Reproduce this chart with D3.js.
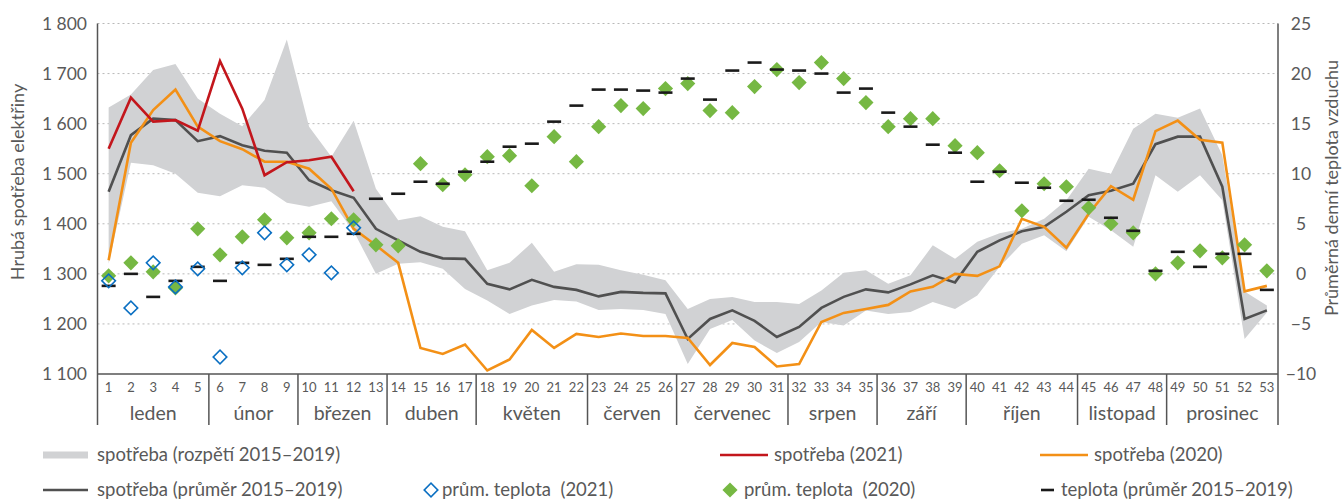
<!DOCTYPE html>
<html lang="cs">
    <head>
        <meta charset="utf-8">
        <title>Hrubá spotřeba elektřiny a teplota</title>
        <script type="text/javascript" src="https://d3js.org/d3.v7.min.js"></script>
        <style type="text/css">
            body { margin: 0; background: #fff; }
            text { font-family: Lato, "Open Sans", sans-serif; fill: #595959; }
        </style>
    </head>
    <body>
        <div id="chart"></div>
        <script type="text/javascript">

            // categories
            var weeks = d3.range(1, 54);
            var monthNames = ["leden", "únor", "březen", "duben", "květen", "červen", "červenec", "srpen", "září", "říjen", "listopad", "prosinec"];
            var monthFirstWeek = [1, 6, 10, 14, 18, 23, 27, 32, 36, 40, 45, 49];
            var monthLastWeek = [5, 9, 13, 17, 22, 26, 31, 35, 39, 44, 48, 53];

            // tick labels
            var consTicks = [1100, 1200, 1300, 1400, 1500, 1600, 1700, 1800];
            var tempTicks = [-10, -5, 0, 5, 10, 15, 20, 25];

            // consumption
            var consMin = [1320, 1522, 1517, 1500, 1462, 1455, 1477, 1472, 1442, 1434, 1445, 1385, 1300, 1320, 1323, 1310, 1270, 1247, 1220, 1237, 1248, 1245, 1228, 1230, 1228, 1220, 1120, 1190, 1208, 1167, 1142, 1164, 1204, 1197, 1227, 1220, 1224, 1244, 1230, 1257, 1314, 1360, 1377, 1345, 1414, 1387, 1354, 1497, 1464, 1497, 1447, 1170, 1223];
            var consMax = [1632, 1658, 1707, 1719, 1650, 1620, 1595, 1647, 1768, 1594, 1534, 1606, 1470, 1407, 1415, 1394, 1385, 1307, 1322, 1362, 1304, 1319, 1318, 1307, 1298, 1287, 1230, 1250, 1254, 1244, 1244, 1240, 1267, 1302, 1307, 1280, 1297, 1357, 1330, 1364, 1381, 1390, 1410, 1447, 1510, 1500, 1590, 1620, 1612, 1630, 1537, 1265, 1237];
            var consAvg = [1464, 1577, 1610, 1607, 1565, 1575, 1557, 1546, 1542, 1487, 1467, 1452, 1390, 1367, 1344, 1331, 1330, 1280, 1269, 1288, 1274, 1268, 1255, 1264, 1262, 1261, 1170, 1210, 1227, 1206, 1174, 1194, 1232, 1254, 1269, 1263, 1279, 1297, 1283, 1344, 1367, 1385, 1394, 1424, 1457, 1466, 1480, 1559, 1574, 1574, 1474, 1210, 1227];
            var cons2020 = [1327, 1562, 1627, 1668, 1594, 1565, 1549, 1524, 1524, 1510, 1470, 1390, 1357, 1322, 1152, 1140, 1159, 1107, 1129, 1188, 1152, 1180, 1174, 1181, 1176, 1176, 1172, 1118, 1162, 1154, 1115, 1120, 1204, 1222, 1230, 1238, 1265, 1274, 1300, 1296, 1315, 1410, 1394, 1352, 1420, 1475, 1448, 1585, 1606, 1568, 1562, 1265, 1276];
            var cons2021 = [1550, 1652, 1604, 1607, 1586, 1725, 1630, 1497, 1523, 1527, 1534, 1465];

            // temperature
            var tempAvg = [-1.2, 0.0, -2.3, -0.7, 0.7, -0.7, 1.1, 0.9, 1.5, 3.7, 3.7, 4.0, 7.5, 8.0, 9.2, 9.0, 10.2, 11.2, 12.7, 13.0, 15.2, 16.8, 18.4, 18.4, 18.3, 18.1, 19.5, 17.4, 20.3, 21.1, 20.4, 20.3, 20.0, 18.1, 18.5, 16.1, 14.7, 12.9, 12.1, 9.2, 10.2, 9.1, 8.6, 7.3, 7.4, 5.6, 4.3, 0.3, 2.2, 0.7, 2.0, 2.0, -1.6];
            var temp2020 = [-0.2, 1.1, 0.2, -1.4, 4.5, 1.9, 3.7, 5.4, 3.6, 4.1, 5.5, 5.4, 2.9, 2.8, 11.0, 8.9, 9.9, 11.7, 11.8, 8.8, 13.7, 11.2, 14.7, 16.8, 16.5, 18.5, 19.0, 16.3, 16.1, 18.7, 20.4, 19.1, 21.1, 19.5, 17.1, 14.7, 15.5, 15.5, 12.8, 12.1, 10.3, 6.3, 9.0, 8.7, 6.6, 5.0, 4.1, 0.0, 1.1, 2.3, 1.6, 2.9, 0.3];
            var temp2021 = [-0.7, -3.4, 1.1, -1.3, 0.5, -8.3, 0.6, 4.1, 0.9, 1.9, 0.1, 4.6];

            var colors = {band: "#d1d2d4", avg: "#505050", y2020: "#f39016", y2021: "#c3161c",
                          green: "#76b843", blue: "#0a6fc2", dash: "#1a1a1a", axis: "#555"};

            // plot area
            var plotLeft = 97.5, plotRight = 1278, plotTop = 23.5, plotBottom = 374, axisEnd = 425;

            var svg = d3.select("#chart")
                .append("svg")
                    .attr("width", 1343)
                    .attr("height", 499);

            // scales
            var x = d3.scaleBand().domain(weeks).range([plotLeft, plotRight]).padding(0);
            var cx = function(w) { return x(w) + x.bandwidth() / 2; };
            var yCons = d3.scaleLinear().domain([1100, 1800]).range([plotBottom, plotTop]);
            var yTemp = d3.scaleLinear().domain([-10, 25]).range([plotBottom, plotTop]);

            var cz = d3.formatLocale({decimal: ",", thousands: "\u00a0", grouping: [3], currency: ["", " Kč"]});

            // grid
            svg.append("g")
                .selectAll("line")
                .data(consTicks.slice(1))
                .join("line")
                    .attr("x1", plotLeft).attr("x2", plotRight)
                    .attr("y1", function(d) { return yCons(d); })
                    .attr("y2", function(d) { return yCons(d); })
                    .attr("stroke", "#b8b8b8")
                    .attr("stroke-width", 1)
                    .attr("stroke-dasharray", "2,3");

            // range band
            var rows = weeks.map(function(w, i) {
                return {week: w, min: consMin[i], max: consMax[i]};
            });
            svg.append("path")
                .datum(rows)
                .attr("fill", colors.band)
                .attr("d", d3.area()
                    .x(function(d) { return cx(d.week); })
                    .y0(function(d) { return yCons(d.min); })
                    .y1(function(d) { return yCons(d.max); }));

            // consumption lines
            function drawLine(values, color) {
                svg.append("path")
                    .datum(values.map(function(v, i) { return {week: weeks[i], v: v}; }))
                    .attr("fill", "none")
                    .attr("stroke", color)
                    .attr("stroke-width", 2.6)
                    .attr("d", d3.line()
                        .x(function(d) { return cx(d.week); })
                        .y(function(d) { return yCons(d.v); }));
            }
            drawLine(consAvg, colors.avg);
            drawLine(cons2020, colors.y2020);
            drawLine(cons2021, colors.y2021);

            // temperature markers
            var diamond = d3.symbol().type(d3.symbolSquare).size(115);
            var diamondOpen = d3.symbol().type(d3.symbolSquare).size(92);

            svg.append("g")
                .selectAll("path")
                .data(temp2020)
                .join("path")
                    .attr("d", diamond)
                    .attr("transform", function(d, i) { return "translate(" + cx(weeks[i]) + "," + yTemp(d) + ") rotate(45)"; })
                    .attr("fill", colors.green);

            svg.append("g")
                .selectAll("line")
                .data(tempAvg)
                .join("line")
                    .attr("x1", function(d, i) { return cx(weeks[i]) - 7; })
                    .attr("x2", function(d, i) { return cx(weeks[i]) + 7; })
                    .attr("y1", function(d) { return yTemp(d); })
                    .attr("y2", function(d) { return yTemp(d); })
                    .attr("stroke", colors.dash)
                    .attr("stroke-width", 2.6);

            svg.append("g")
                .selectAll("path")
                .data(temp2021)
                .join("path")
                    .attr("d", diamondOpen)
                    .attr("transform", function(d, i) { return "translate(" + cx(weeks[i]) + "," + yTemp(d) + ") rotate(45)"; })
                    .attr("fill", "none")
                    .attr("stroke", colors.blue)
                    .attr("stroke-width", 1.6);

            // left axis
            var gLeft = svg.append("g")
                .attr("transform", "translate(" + plotLeft + ",0)")
                .call(d3.axisLeft(yCons).tickValues(consTicks).tickSize(0).tickPadding(10.5).tickFormat(cz.format(",")));
            gLeft.select(".domain").remove();
            gLeft.selectAll("text").style("font-size", "17.5px").style("font-family", "Lato, sans-serif").attr("fill", "#595959");

            // right axis
            var gRight = svg.append("g")
                .attr("transform", "translate(" + plotRight + ",0)")
                .call(d3.axisRight(yTemp).tickValues(tempTicks).tickSize(0).tickFormat(d3.format("d")));
            gRight.select(".domain").remove();
            gRight.selectAll("text")
                .attr("x", 23).attr("text-anchor", "middle")
                .style("font-size", "17.5px").style("font-family", "Lato, sans-serif").attr("fill", "#595959");

            // week labels
            var gBottom = svg.append("g")
                .attr("transform", "translate(0," + plotBottom + ")")
                .call(d3.axisBottom(x).tickSize(0).tickPadding(9));
            gBottom.select(".domain").remove();
            gBottom.selectAll("text").style("font-size", "13px").style("font-family", "Lato, sans-serif").attr("fill", "#595959");

            // frame lines
            svg.append("line")
                .attr("x1", plotLeft).attr("x2", plotRight).attr("y1", plotBottom).attr("y2", plotBottom)
                .attr("stroke", colors.axis).attr("stroke-width", 1.5);
            svg.append("line")
                .attr("x1", plotLeft).attr("x2", plotLeft).attr("y1", plotTop).attr("y2", axisEnd)
                .attr("stroke", colors.axis).attr("stroke-width", 1.5);
            svg.append("line")
                .attr("x1", plotRight).attr("x2", plotRight).attr("y1", plotTop).attr("y2", axisEnd)
                .attr("stroke", colors.axis).attr("stroke-width", 1.5);

            // month separators and labels
            svg.append("g")
                .selectAll("line")
                .data(monthFirstWeek.slice(1))
                .join("line")
                    .attr("x1", function(d) { return x(d); })
                    .attr("x2", function(d) { return x(d); })
                    .attr("y1", plotBottom).attr("y2", axisEnd)
                    .attr("stroke", colors.axis).attr("stroke-width", 1.5);

            svg.append("g")
                .selectAll("text")
                .data(monthNames)
                .join("text")
                    .attr("x", function(d, i) { return (x(monthFirstWeek[i]) + x(monthLastWeek[i]) + x.bandwidth()) / 2; })
                    .attr("y", 413)
                    .attr("dy", "0.35em")
                    .attr("text-anchor", "middle")
                    .style("font-size", "19.5px")
                    .text(function(d) { return d; });

            // axis titles
            svg.append("text")
                .attr("transform", "translate(24,182) rotate(-90)")
                .attr("text-anchor", "middle")
                .style("font-size", "18px")
                .text("Hrubá spotřeba elektřiny");
            svg.append("text")
                .attr("transform", "translate(1338,188) rotate(-90)")
                .attr("text-anchor", "middle")
                .style("font-size", "18px")
                .text("Průměrná denní teplota vzduchu");

            // legend
            var legend = svg.append("g").style("font-size", "18.5px");
            var r1 = 455, r2 = 490;

            legend.append("rect").attr("x", 43).attr("y", r1 - 3.5).attr("width", 45).attr("height", 7).attr("fill", colors.band);
            legend.append("text").attr("x", 97).attr("y", r1).attr("dy", "0.35em").text("spotřeba (rozpětí 2015–2019)");

            legend.append("line").attr("x1", 720).attr("x2", 768).attr("y1", r1).attr("y2", r1).attr("stroke", colors.y2021).attr("stroke-width", 2.6);
            legend.append("text").attr("x", 774).attr("y", r1).attr("dy", "0.35em").text("spotřeba (2021)");

            legend.append("line").attr("x1", 1040).attr("x2", 1088).attr("y1", r1).attr("y2", r1).attr("stroke", colors.y2020).attr("stroke-width", 2.6);
            legend.append("text").attr("x", 1094).attr("y", r1).attr("dy", "0.35em").text("spotřeba (2020)");

            legend.append("line").attr("x1", 43).attr("x2", 88).attr("y1", r2).attr("y2", r2).attr("stroke", colors.avg).attr("stroke-width", 2.6);
            legend.append("text").attr("x", 97).attr("y", r2).attr("dy", "0.35em").text("spotřeba (průměr 2015–2019)");

            legend.append("path").attr("d", diamondOpen).attr("transform", "translate(431," + r2 + ") rotate(45)")
                .attr("fill", "none").attr("stroke", colors.blue).attr("stroke-width", 1.6);
            legend.append("text").attr("x", 442).attr("y", r2).attr("dy", "0.35em").style("white-space", "pre").text("prům. teplota  (2021)");

            legend.append("path").attr("d", diamond).attr("transform", "translate(730," + r2 + ") rotate(45)")
                .attr("fill", colors.green);
            legend.append("text").attr("x", 744).attr("y", r2).attr("dy", "0.35em").style("white-space", "pre").text("prům. teplota  (2020)");

            legend.append("line").attr("x1", 1041).attr("x2", 1054).attr("y1", r2).attr("y2", r2).attr("stroke", colors.dash).attr("stroke-width", 2.6);
            legend.append("text").attr("x", 1061).attr("y", r2).attr("dy", "0.35em").text("teplota (průměr 2015–2019)");

        </script>
    </body>
</html>
